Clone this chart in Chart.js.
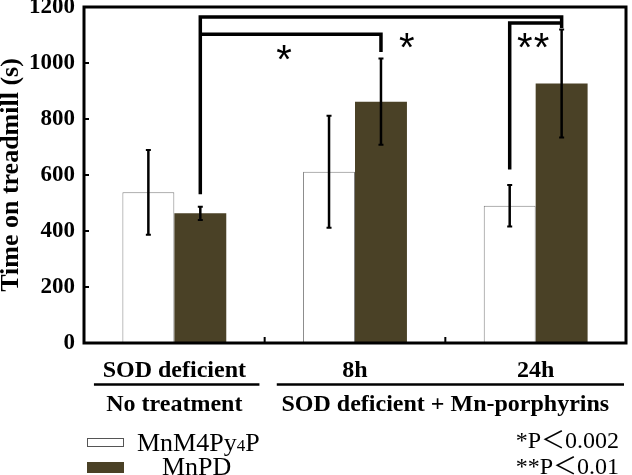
<!DOCTYPE html>
<html>
<head>
<meta charset="utf-8">
<script src="https://cdn.jsdelivr.net/npm/chart.js@4.4.0/dist/chart.umd.min.js"></script>
<style>
  html, body { margin: 0; padding: 0; background: #fff; }
  #wrap { width: 632px; height: 475px; }
</style>
</head>
<body>
<div id="wrap"><canvas id="chart" width="632" height="475"></canvas></div>
<script>
// --- данные ---
const categories = ['SOD deficient', '8h', '24h'];
const seriesNames = ['MnM4Py4P', 'MnPD'];
const mnm4Means = [538, 612, 490];
const mnm4Errors = [151, 200, 74];
const mnpdMeans = [463, 862, 927];
const mnpdErrors = [24, 154, 193];
const yTicks = [0, 200, 400, 600, 800, 1000, 1200];
const groupLabels = ['No treatment', 'SOD deficient + Mn-porphyrins'];
const pNotes = ['*P＜0.002', '**P＜0.01'];

// скобки значимости: [набор, категория, значение]
const brackets = [
  [[1, 0, 531], [1, 0, 1164], [1, 2, 1164], [1, 2, 1125]],
  [[1, 0, 1103], [1, 1, 1103], [1, 1, 1039]],
  [[0, 2, 620], [0, 2, 1143], [1, 2, 1143]]
];
// звездочки: [индекс категории (дробный), значение центра]
const stars = [[0.607, 1048], [1.286, 1088], [1.94, 1088], [2.033, 1088]];

const SERIF = '"Liberation Serif", "Times New Roman", serif';
const barColors = ['#ffffff', '#4a4126'];
const errors = [mnm4Errors, mnpdErrors];

const overlay = {
  id: 'overlay',
  afterDatasetsDraw(chart) {
    const ctx = chart.ctx;
    const ca = chart.chartArea;
    const x = chart.scales.x;
    const y = chart.scales.y;
    ctx.save();

    // планки погрешностей
    chart.data.datasets.forEach((ds, i) => {
      const meta = chart.getDatasetMeta(i);
      meta.data.forEach((bar, j) => {
        const top = y.getPixelForValue(ds.data[j] + errors[i][j]);
        const bot = y.getPixelForValue(ds.data[j] - errors[i][j]);
        ctx.strokeStyle = '#000';
        ctx.lineWidth = 2.5;
        ctx.beginPath();
        ctx.moveTo(bar.x, top);
        ctx.lineTo(bar.x, bot);
        ctx.stroke();
        ctx.lineWidth = 2;
        ctx.beginPath();
        ctx.moveTo(bar.x - 2.5, top); ctx.lineTo(bar.x + 2.5, top);
        ctx.moveTo(bar.x - 2.5, bot); ctx.lineTo(bar.x + 2.5, bot);
        ctx.stroke();
      });
    });

    // рамка
    ctx.strokeStyle = '#000';
    ctx.lineWidth = 3;
    ctx.strokeRect(ca.left, ca.top, ca.right - ca.left, ca.bottom - ca.top);

    // засечки
    ctx.lineWidth = 2;
    ctx.beginPath();
    yTicks.forEach(v => {
      const py = y.getPixelForValue(v);
      ctx.moveTo(ca.left, py);
      ctx.lineTo(ca.left + 5, py);
    });
    for (let k = 0; k < categories.length - 1; k++) {
      const px = x.getPixelForValue(k + 0.5);
      ctx.moveTo(px, ca.bottom);
      ctx.lineTo(px, ca.bottom - 6);
    }
    ctx.stroke();

    // скобки
    ctx.lineWidth = 3.5;
    ctx.lineJoin = 'miter';
    brackets.forEach(path => {
      ctx.beginPath();
      path.forEach((p, n) => {
        const px = chart.getDatasetMeta(p[0]).data[p[1]].x;
        const py = y.getPixelForValue(p[2]);
        if (n === 0) ctx.moveTo(px, py); else ctx.lineTo(px, py);
      });
      ctx.stroke();
    });

    // звездочки
    ctx.fillStyle = '#000';
    ctx.font = '40px "Liberation Sans", Arial, sans-serif';
    ctx.textAlign = 'center';
    ctx.textBaseline = 'alphabetic';
    stars.forEach(s => {
      ctx.fillText('*', x.getPixelForValue(s[0]), y.getPixelForValue(s[1]) + 23);
    });

    // нижние подписи групп
    const lineY = ca.bottom + 41.5;
    ctx.lineWidth = 2.5;
    ctx.beginPath();
    ctx.moveTo(x.getPixelForValue(-0.445), lineY);
    ctx.lineTo(x.getPixelForValue(0.471), lineY);
    ctx.moveTo(x.getPixelForValue(0.567), lineY);
    ctx.lineTo(x.getPixelForValue(2.489), lineY);
    ctx.stroke();
    ctx.font = 'bold 24px ' + SERIF;
    ctx.textBaseline = 'middle';
    ctx.fillText(groupLabels[0], x.getPixelForValue(0), ca.bottom + 62);
    ctx.fillText(groupLabels[1], x.getPixelForValue(1.5), ca.bottom + 62);

    // p-значения
    ctx.font = '24px ' + SERIF + ', "Noto Sans CJK JP"';
    ctx.textAlign = 'right';
    ctx.textBaseline = 'alphabetic';
    ctx.fillText(pNotes[0], 619, 448);
    ctx.fillText(pNotes[1], 619, 474);

    // легенда
    ctx.fillStyle = barColors[0];
    ctx.fillRect(87, 438.5, 37, 8);
    ctx.strokeStyle = '#555';
    ctx.lineWidth = 1;
    ctx.strokeRect(87.5, 438.5, 36, 8);
    ctx.fillStyle = barColors[1];
    ctx.fillRect(87, 462, 37, 11);
    ctx.fillStyle = '#000';
    ctx.textAlign = 'left';
    ctx.font = '26px ' + SERIF;
    let tx = 137;
    ctx.fillText('MnM4Py', tx, 451);
    tx += ctx.measureText('MnM4Py').width;
    ctx.font = '17px ' + SERIF;
    ctx.fillText('4', tx, 451);
    tx += ctx.measureText('4').width;
    ctx.font = '26px ' + SERIF;
    ctx.fillText('P', tx, 451);
    ctx.fillText(seriesNames[1], 162, 475);

    ctx.restore();
  }
};

new Chart(document.getElementById('chart'), {
  type: 'bar',
  data: {
    labels: categories,
    datasets: [{
      label: seriesNames[0],
      data: mnm4Means,
      backgroundColor: barColors[0],
      borderColor: '#808080',
      borderWidth: 1
    }, {
      label: seriesNames[1],
      data: mnpdMeans,
      backgroundColor: barColors[1],
      borderWidth: 0
    }]
  },
  options: {
    responsive: false,
    devicePixelRatio: 1,
    animation: false,
    layout: { padding: { top: 7, right: 6, bottom: 0, left: 0 } },
    datasets: { bar: { categoryPercentage: 0.575, barPercentage: 1 } },
    plugins: { legend: { display: false }, tooltip: { enabled: false } },
    scales: {
      x: {
        grid: { display: false, drawTicks: false },
        border: { display: false },
        ticks: {
          color: '#000',
          padding: 13,
          maxRotation: 0,
          autoSkip: false,
          font: { family: SERIF, size: 24, weight: 'bold' }
        },
        afterFit(s) { s.height = 132; s.paddingLeft = 0; s.paddingRight = 0; }
      },
      y: {
        min: 0,
        max: 1200,
        grid: { display: false, drawTicks: false },
        border: { display: false },
        ticks: {
          stepSize: 200,
          color: '#000',
          padding: 9,
          callback: v => String(v),
          font: { family: SERIF, size: 23, weight: 'bold' }
        },
        title: {
          display: true,
          text: 'Time on treadmill (s)',
          color: '#000',
          padding: 0,
          font: { family: SERIF, size: 26, weight: 'bold', lineHeight: 0.9 }
        },
        afterFit(s) { s.width = 84; s.paddingTop = 0; s.paddingBottom = 0; }
      }
    }
  },
  plugins: [overlay]
});
</script>
</body>
</html>
